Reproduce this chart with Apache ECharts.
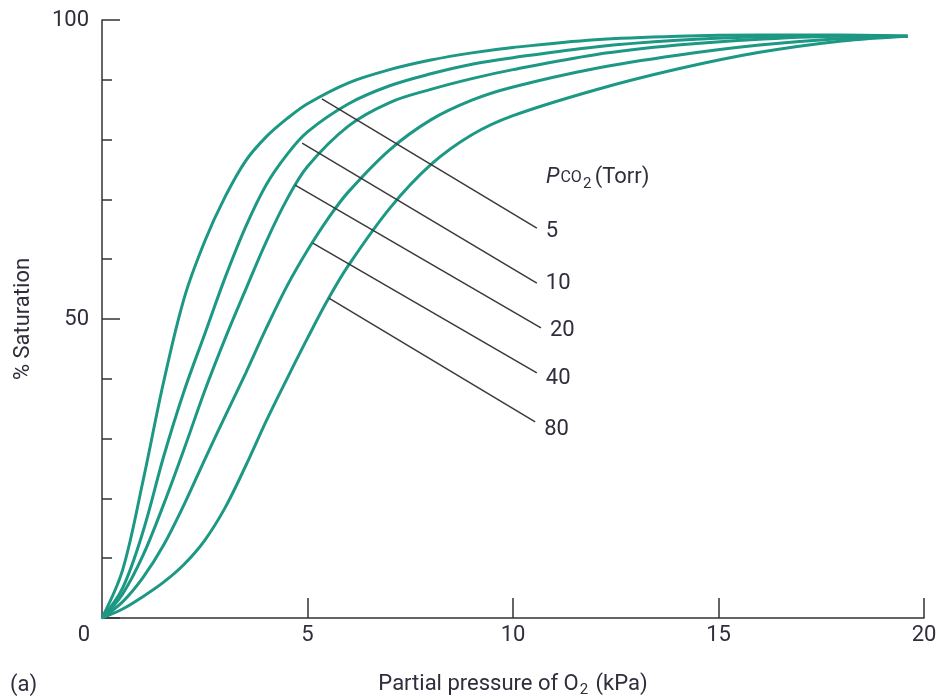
<!DOCTYPE html>
<html><head><meta charset="utf-8">
<script src="https://cdn.jsdelivr.net/npm/echarts@6/dist/echarts.min.js"></script>
<style>html,body{margin:0;padding:0;background:#fff}#c{width:938px;height:698px}</style>
</head><body><div id="c"></div>
<script>
// Oxygen saturation curves (% saturation vs P_O2 in kPa) for different P_CO2 (Torr)
const co2Levels = ['5', '10', '20', '40', '80'];

const curveCO2_5  = [[0,0],[0.5,8],[1,23],[1.5,39.5],[2,53.5],[2.5,63],[3,70.5],[3.5,76.5],[4,80.5],[4.5,83.5],[5,86],[6,89.5],[7,91.7],[8,93.3],[9,94.5],[10,95.4],[12,96.7],[14,97.3],[16,97.5],[18,97.5],[19.6,97.3]];
const curveCO2_10 = [[0,0],[0.5,5],[1,14.5],[1.5,27],[2,38],[2.5,47.5],[3,57],[3.5,65.5],[4,72.5],[4.5,77.5],[5,81.3],[6,86],[7,89],[8,91],[9,92.6],[10,93.7],[12,95.5],[14,96.6],[16,97.2],[18,97.4],[19.6,97.3]];
const curveCO2_20 = [[0,0],[0.5,4],[1,10.5],[1.5,19],[2,28.3],[2.5,38],[3,46.8],[3.5,55],[4,63],[4.5,70],[5,75.5],[6,82.3],[7,86.2],[8,88.4],[9,90.2],[10,91.7],[12,94.2],[14,95.8],[16,96.8],[18,97.3],[19.6,97.3]];
const curveCO2_40 = [[0,0],[0.5,2.7],[1,6.8],[1.5,12.2],[2,19],[2.5,26.5],[3,33.8],[3.5,41],[4,48.5],[4.5,55.5],[5,61.5],[5.5,66.8],[6,71.3],[7,78.3],[8,83.3],[9,86.6],[10,88.8],[12,91.9],[14,94.1],[16,95.8],[18,96.9],[19.6,97.3]];
const curveCO2_80 = [[0,0],[0.5,1.5],[1,3.6],[1.5,6],[2,9],[2.5,13],[3,18.5],[3.5,25.5],[4,33],[4.5,40],[5,46.8],[5.5,53.3],[6,59],[7,68.5],[8,75.8],[9,80.8],[10,84],[12,88.3],[14,91.8],[16,94.6],[18,96.5],[19.6,97.3]];

// leader lines from each curve to its P_CO2 label (data coordinates)
const leader5  = [[5.35,86.8],[10.58,65.2]];
const leader10 = [[4.87,79.4],[10.58,56.0]];
const leader20 = [[4.70,72.4],[10.68,48.5]];
const leader40 = [[5.13,62.7],[10.58,41.0]];
const leader80 = [[5.52,53.5],[10.54,32.8]];

const xTickValues = [0, 5, 10, 15, 20];
const yLabelValues = [50, 100];

const curves = [curveCO2_5, curveCO2_10, curveCO2_20, curveCO2_40, curveCO2_80];
const leaders = [leader5, leader10, leader20, leader40, leader80];
const labelNudge = [3, 0, 3, 6, 8];

const FONT = "Roboto, 'Noto Sans', sans-serif";
const TXT = '#2e2e3c';
const TEAL = '#1c9884';
const AX = '#333333';
const FS = 22;

const series = [];
curves.forEach((d) => {
  series.push({
    type: 'line', data: d, smooth: 0.35, showSymbol: false, symbol: 'none',
    lineStyle: { color: TEAL, width: 3 }, z: 3, silent: true
  });
});
leaders.forEach((d, i) => {
  series.push({
    type: 'line', data: d, showSymbol: false, symbol: 'none',
    lineStyle: { color: '#3a3a3a', width: 1.5 }, z: 4, silent: true,
    endLabel: { show: true, formatter: co2Levels[i], color: TXT, fontFamily: FONT, fontSize: FS, distance: 9, offset: [0, labelNudge[i]] }
  });
});

const chart = echarts.init(document.getElementById('c'), null, { renderer: 'canvas' });
chart.setOption({
  animation: false,
  backgroundColor: '#ffffff',
  grid: { left: 102, right: 14, top: 20, bottom: 80, containLabel: false, outerBoundsMode: 'none' },
  xAxis: {
    type: 'value', min: 0, max: 20, interval: 5,
    name: 'Partial pressure of O{sub|2} (kPa)', nameLocation: 'middle', nameGap: 53,
    nameTextStyle: { color: TXT, fontFamily: FONT, fontSize: FS,
      rich: { sub: { fontSize: 15, verticalAlign: 'bottom', padding: [12, 2, 0, 1], color: TXT, fontFamily: FONT } } },
    axisLine: { show: true, lineStyle: { color: AX, width: 1.5 } },
    axisTick: { show: true, inside: true, length: 20, lineStyle: { color: AX, width: 1.5 },
      customValues: [5, 10, 15, 20] },
    axisLabel: { color: TXT, fontFamily: FONT, fontSize: FS, margin: 6,
      customValues: xTickValues,
      formatter: v => v === 0 ? '{z|0}' : String(v),
      rich: { z: { padding: [0, 36, 0, 0], fontSize: FS, fontFamily: FONT, color: TXT } } },
    splitLine: { show: false }
  },
  yAxis: [{
    type: 'value', min: 0, max: 100, interval: 10,
    name: '% Saturation', nameLocation: 'middle', nameGap: 68, nameRotate: 90,
    nameTextStyle: { color: TXT, fontFamily: FONT, fontSize: FS },
    axisLine: { show: true, lineStyle: { color: AX, width: 1.5 } },
    axisTick: { show: true, inside: true, length: 10, lineStyle: { color: AX, width: 1.5 } },
    axisLabel: { color: TXT, fontFamily: FONT, fontSize: FS, margin: 13,
      customValues: yLabelValues },
    splitLine: { show: false }
  }, {
    type: 'value', min: 0, max: 100, interval: 50, position: 'left', offset: 0,
    axisLine: { show: false }, axisLabel: { show: false }, splitLine: { show: false },
    axisTick: { show: true, inside: true, length: 18, lineStyle: { color: AX, width: 1.5 } }
  }],
  graphic: [
    { type: 'text', left: 10, top: 674, style: { text: '(a)', fill: TXT, font: FS + 'px ' + FONT } },
    { type: 'text', left: 546, top: 166,
      style: { text: '{p|P}{co|CO}{s|2} {t|(Torr)}', fill: TXT,
        rich: {
          p: { fontStyle: 'italic', fontSize: FS, fontFamily: FONT, fill: TXT },
          co: { fontSize: 16, fontFamily: FONT, fill: TXT, padding: [2, 0, 0, 1] },
          s: { fontSize: 15, fontFamily: FONT, fill: TXT, padding: [14, 0, 0, 1] },
          t: { fontSize: FS, fontFamily: FONT, fill: TXT }
        } } }
  ],
  series: series
});
</script></body></html>
